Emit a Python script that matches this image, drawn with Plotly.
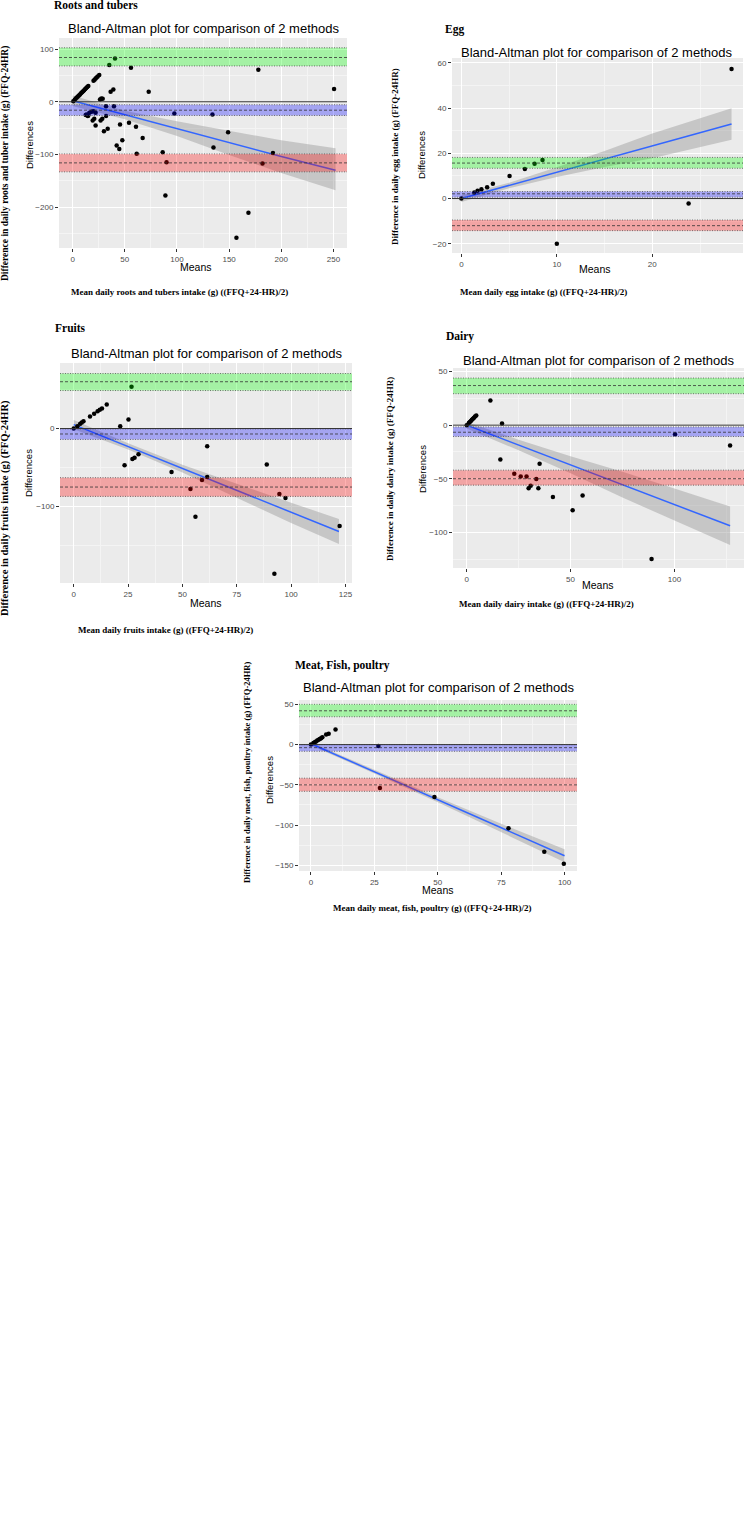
import plotly.graph_objects as go

W, H = 745, 1513

# ---------------- data ----------------
# Roots and tubers
roots_mean = [0.6, 2, 3, 4, 5, 6, 7, 8, 9, 10, 11, 12, 13, 14, 15,
              20, 21, 22, 23, 24, 25.5, 26.2, 27.5, 28.8, 36.4, 39, 40.6, 35.1, 55.9, 72.9,
              32, 39.6, 13.4, 16, 18, 19.8, 22, 15, 12.5, 14.5, 32, 19.2, 20.7, 22, 26.8, 28.4,
              45.4, 54, 60.7, 33.6, 30, 67.1, 47.6, 42.2, 44.7, 61.4, 86.3, 90,
              88.9, 97.5, 134, 149, 135, 192, 182, 168.5, 157, 178, 250.6]
roots_diff = [1.2, 4, 6, 8, 10, 12, 14, 16, 18, 20, 22, 24, 26, 28, 30,
              40, 42, 44, 46, 48, 51, 4.4, 6, 5.7, 19, 23.4, 82, 69.7, 64.7, 19,
              -8.4, -8.4, -24, -21, -19, -18, -21, -26, -25, -27, -27, -35.6, -32.4, -45, -35.6, -32.4,
              -43, -40, -47.6, -51.4, -56, -68.6, -73, -83, -89.6, -98.5, -96, -115,
              -178, -22.5, -24, -58, -87, -97, -117, -210.6, -258, 60.6, 24.4]
roots_loa_upper = [68, 84, 102.5]      # lower CI, estimate, upper CI
roots_bias = [-26, -16, -5.6]
roots_loa_lower = [-133, -116, -99]
roots_fit_x = [0, 50, 100, 150, 200, 252]
roots_fit_y = [2, -24.6, -51, -78, -104, -130]
roots_ci_lo = [-8, -33, -65, -101, -135, -168]
roots_ci_hi = [12, -17, -37, -55, -73, -88]

# Egg
egg_mean = [0, 1.36, 1.7, 2.1, 2.7, 3.3, 5.05, 6.65, 7.67, 8.5, 10, 23.8, 28.3]
egg_diff = [0, 2.7, 3.4, 4.1, 5, 6.5, 10, 13.1, 15.4, 17.1, -20, -2.2, 57.3]
egg_loa_upper = [13.4, 15.7, 18.2]
egg_bias = [0.6, 2.1, 3.1]
egg_loa_lower = [-14.2, -12, -9.5]
egg_fit_x = [0, 5, 10, 15, 20, 28.3]
egg_fit_y = [0, 5.8, 11.7, 17.5, 23.3, 33]
egg_ci_lo = [-1.5, 4.6, 9.5, 14, 17.8, 26]
egg_ci_hi = [1.5, 7, 13.9, 21, 28.8, 40]

# Fruits
fruits_mean = [0, 1.7, 3, 3.7, 4.5, 7.5, 9.4, 11, 12, 13, 15.2, 21.4, 25.2, 26.6, 23.4, 27, 28,
               29.8, 45, 53.7, 59, 61.4, 61.4, 56, 88.8, 94.6, 97.4, 122.3, 92.3]
fruits_diff = [0, 3, 6, 7.7, 9.4, 15.4, 18.8, 22, 24, 25.6, 30.8, 3, 11.5, 53.4, -47, -39, -37.6,
               -33, -55.6, -77.4, -66, -22.6, -62, -113, -46, -84, -89, -125, -186]
fruits_loa_upper = [48.7, 60, 70.5]
fruits_bias = [-14, -7, -0.5]
fruits_loa_lower = [-87, -75, -63]
fruits_fit_x = [0, 25, 50, 75, 100, 122]
fruits_fit_y = [5, -23, -51.5, -80, -108, -132]
fruits_ci_lo = [-1, -27, -56.5, -89, -121, -148]
fruits_ci_hi = [11, -19, -46.5, -71, -95, -116]

# Dairy
dairy_mean = [0, 1, 1.5, 2, 2.5, 3, 3.5, 4, 4.6, 11.4, 17, 16.2, 22.9, 26, 28.8, 33.5, 29.8, 30.8,
              34.5, 35.1, 41.5, 55.8, 51, 89, 100.3, 126.8]
dairy_diff = [0, 2, 3, 4, 5, 6, 7, 8, 9, 23, 1.6, -32, -45.3, -48, -48, -50.3, -59, -56.5,
              -59, -36, -67, -65.6, -79.4, -125, -8.4, -19]
dairy_loa_upper = [29.4, 37, 44]
dairy_bias = [-10.6, -6.6, -1.6]
dairy_loa_lower = [-56, -50, -42]
dairy_fit_x = [0, 25, 50, 75, 100, 126.8]
dairy_fit_y = [0, -18.5, -37, -55.6, -74.1, -94]
dairy_ci_lo = [-3, -23.5, -45, -67.6, -89.1, -112]
dairy_ci_hi = [3, -13.5, -29, -43.6, -59.1, -76]

# Meat, fish, poultry
meat_mean = [0, 1, 1.5, 2, 2.5, 3, 3.5, 4, 4.5, 6, 7, 9.7, 26.6, 27.2, 48.7, 77.9, 92, 99.7]
meat_diff = [0, 2, 3, 4, 5, 6, 7, 8, 9, 12.5, 13.5, 18.8, -1.7, -53.8, -65, -104, -133, -148]
meat_loa_upper = [34.6, 42, 50]
meat_bias = [-8.3, -3.8, 0]
meat_loa_lower = [-58, -50, -41.7]
meat_fit_x = [0, 25, 50, 75, 100]
meat_fit_y = [1, -33.75, -68.5, -103.25, -138]
meat_ci_lo = [-1, -35.75, -71.5, -108.25, -146]
meat_ci_hi = [3, -31.75, -65.5, -98.25, -130]

# tick labels
roots_xticks = [0, 50, 100, 150, 200, 250]
roots_yticks = [-200, -100, 0, 100]
egg_xticks = [0, 10, 20]
egg_yticks = [-20, 0, 20, 40, 60]
fruits_xticks = [0, 25, 50, 75, 100, 125]
fruits_yticks = [-100, 0]
dairy_xticks = [0, 50, 100]
dairy_yticks = [-100, -50, 0, 50]
meat_xticks = [0, 25, 50, 75, 100]
meat_yticks = [-150, -100, -50, 0, 50]

TITLE = "Bland-Altman plot for comparison of 2 methods"

panels = [
    dict(mean=roots_mean, diff=roots_diff, up=roots_loa_upper, bias=roots_bias, low=roots_loa_lower,
         fx=roots_fit_x, fy=roots_fit_y, clo=roots_ci_lo, chi=roots_ci_hi,
         xt=roots_xticks, yt=roots_yticks, xminor=25, yminor=50,
         box=(59, 347, 38, 248), xr=[-13.1, 263], yr=[-277.5, 121],
         name="Roots and tubers", name_pos=(52, 5, 11.5),
         title_pos=(203, 28), diff_pos=(29, 145), means_pos=(196, 267),
         bottom="Mean daily roots and tubers intake (g) ((FFQ+24-HR)/2)", bottom_pos=(179, 292, 9),
         outer="Difference in daily roots and tuber intake (g) (FFQ-24HR)", outer_pos=(5, 164, 9.5)),
    dict(mean=egg_mean, diff=egg_diff, up=egg_loa_upper, bias=egg_bias, low=egg_loa_lower,
         fx=egg_fit_x, fy=egg_fit_y, clo=egg_ci_lo, chi=egg_ci_hi,
         xt=egg_xticks, yt=egg_yticks, xminor=5, yminor=10,
         box=(452, 743, 58, 253), xr=[-0.98, 29.5], yr=[-24.1, 62.2],
         name="Egg", name_pos=(443, 30, 11.5),
         title_pos=(596, 52), diff_pos=(422, 155), means_pos=(595, 269),
         bottom="Mean daily egg intake (g) ((FFQ+24-HR)/2)", bottom_pos=(543, 292, 9),
         outer="Difference in daily egg intake (g) (FFQ-24HR)", outer_pos=(395, 157, 9)),
    dict(mean=fruits_mean, diff=fruits_diff, up=fruits_loa_upper, bias=fruits_bias, low=fruits_loa_lower,
         fx=fruits_fit_x, fy=fruits_fit_y, clo=fruits_ci_lo, chi=fruits_ci_hi,
         xt=fruits_xticks, yt=fruits_yticks, xminor=12.5, yminor=50,
         box=(60, 352, 363, 583), xr=[-6.3, 128], yr=[-198, 84],
         name="Fruits", name_pos=(53, 328, 11.5),
         title_pos=(206, 353), diff_pos=(29, 473), means_pos=(206, 603),
         bottom="Mean daily fruits intake (g) ((FFQ+24-HR)/2)", bottom_pos=(165, 630, 9),
         outer="Difference in daily fruits intake (g) (FFQ-24HR)", outer_pos=(5, 508, 10.5)),
    dict(mean=dairy_mean, diff=dairy_diff, up=dairy_loa_upper, bias=dairy_bias, low=dairy_loa_lower,
         fx=dairy_fit_x, fy=dairy_fit_y, clo=dairy_ci_lo, chi=dairy_ci_hi,
         xt=dairy_xticks, yt=dairy_yticks, xminor=25, yminor=25,
         box=(453, 744, 368, 568), xr=[-6.6, 133.5], yr=[-133.4, 53.4],
         name="Dairy", name_pos=(444, 337, 11.5),
         title_pos=(598, 360), diff_pos=(422, 469), means_pos=(598, 585),
         bottom="Mean daily dairy intake (g) ((FFQ+24-HR)/2)", bottom_pos=(546, 604, 9),
         outer="Difference in daily dairy intake (g) (FFQ-24HR)", outer_pos=(390, 469, 9)),
    dict(mean=meat_mean, diff=meat_diff, up=meat_loa_upper, bias=meat_bias, low=meat_loa_lower,
         fx=meat_fit_x, fy=meat_fit_y, clo=meat_ci_lo, chi=meat_ci_hi,
         xt=meat_xticks, yt=meat_yticks, xminor=12.5, yminor=25,
         box=(299, 577, 700, 871), xr=[-4.7, 104.9], yr=[-157, 55.4],
         name="Meat, Fish, poultry", name_pos=(293, 665, 11.5),
         title_pos=(438, 688), diff_pos=(269, 780), means_pos=(438, 890),
         bottom="Mean daily meat, fish, poultry (g) ((FFQ+24-HR)/2)", bottom_pos=(432, 908, 9),
         outer="Difference in daily meat, fish, poultry intake (g) (FFQ-24HR)", outer_pos=(247, 772, 8.5)),
]


def px(x):
    return x / W


def py(y):
    return 1 - y / H


SANS = "Liberation Sans, Arial, sans-serif"
SERIF = "Liberation Serif, Times New Roman, serif"

fig = go.Figure()
shapes = []
annotations = []
layout_axes = {}

for i, p in enumerate(panels):
    s = "" if i == 0 else str(i + 1)
    xa, ya = "x" + s, "y" + s
    l, r, t, b = p["box"]

    # confidence band of regression
    fig.add_trace(go.Scatter(
        x=p["fx"] + p["fx"][::-1], y=p["chi"] + p["clo"][::-1],
        fill="toself", fillcolor="rgba(153,153,153,0.45)", line=dict(width=0),
        mode="lines", hoverinfo="skip", showlegend=False, xaxis=xa, yaxis=ya))
    # regression line
    fig.add_trace(go.Scatter(
        x=p["fx"], y=p["fy"], mode="lines", line=dict(color="#3366FF", width=1.5),
        showlegend=False, xaxis=xa, yaxis=ya))
    # points
    fig.add_trace(go.Scatter(
        x=p["mean"], y=p["diff"], mode="markers",
        marker=dict(color="black", size=4.5, line=dict(width=0)),
        showlegend=False, xaxis=xa, yaxis=ya))

    xd = xa + " domain"
    for vals, col in ((p["up"], "rgba(0,255,0,0.3)"), (p["bias"], "rgba(0,0,255,0.3)"),
                      (p["low"], "rgba(255,0,0,0.3)")):
        lo, mid, hi = vals
        shapes.append(dict(type="rect", xref=xd, yref=ya, x0=0, x1=1, y0=lo, y1=hi,
                           fillcolor=col, line=dict(width=0), layer="above"))
        for v in (lo, hi):
            shapes.append(dict(type="line", xref=xd, yref=ya, x0=0, x1=1, y0=v, y1=v,
                               line=dict(color="#555555", width=0.8, dash="1px,1.5px"), layer="above"))
        shapes.append(dict(type="line", xref=xd, yref=ya, x0=0, x1=1, y0=mid, y1=mid,
                           line=dict(color="#333333", width=0.8, dash="3px,2px"), layer="above"))
    shapes.append(dict(type="line", xref=xd, yref=ya, x0=0, x1=1, y0=0, y1=0,
                       line=dict(color="#333333", width=1), layer="above"))

    tickfont = dict(family=SANS, size=8, color="#4D4D4D")
    layout_axes["xaxis" + s] = dict(
        domain=[px(l), px(r)], range=p["xr"], anchor=ya, tickvals=p["xt"],
        showgrid=True, gridcolor="white", gridwidth=1, zeroline=False, showline=False,
        ticks="outside", ticklen=3, tickcolor="#333333", tickfont=tickfont,
        minor=dict(dtick=p["xminor"], tick0=0, showgrid=True, gridcolor="#F4F4F4", gridwidth=0.6),
        fixedrange=True)
    layout_axes["yaxis" + s] = dict(
        domain=[py(b), py(t)], range=p["yr"], anchor=xa, tickvals=p["yt"],
        showgrid=True, gridcolor="white", gridwidth=1, zeroline=False, showline=False,
        ticks="outside", ticklen=3, tickcolor="#333333", tickfont=tickfont,
        minor=dict(dtick=p["yminor"], tick0=0, showgrid=True, gridcolor="#F4F4F4", gridwidth=0.6),
        fixedrange=True)

    # texts
    nx, ny, ns = p["name_pos"]
    annotations.append(dict(text="<b>%s</b>" % p["name"], x=px(nx), y=py(ny), xref="paper", yref="paper",
                            xanchor="left", yanchor="middle", showarrow=False,
                            font=dict(family=SERIF, size=ns, color="black")))
    tx, ty = p["title_pos"]
    annotations.append(dict(text=TITLE, x=px(tx), y=py(ty), xref="paper", yref="paper",
                            xanchor="center", yanchor="middle", showarrow=False,
                            font=dict(family=SANS, size=13, color="black")))
    dx, dy = p["diff_pos"]
    annotations.append(dict(text="Differences", x=px(dx), y=py(dy), xref="paper", yref="paper",
                            xanchor="center", yanchor="middle", textangle=-90, showarrow=False,
                            font=dict(family=SANS, size=9.5, color="black")))
    mx, my = p["means_pos"]
    annotations.append(dict(text="Means", x=px(mx), y=py(my), xref="paper", yref="paper",
                            xanchor="center", yanchor="middle", showarrow=False,
                            font=dict(family=SANS, size=10.5, color="black")))
    bx, by, bs = p["bottom_pos"]
    annotations.append(dict(text="<b>%s</b>" % p["bottom"], x=px(bx), y=py(by), xref="paper", yref="paper",
                            xanchor="center", yanchor="middle", showarrow=False,
                            font=dict(family=SERIF, size=bs, color="black")))
    ox, oy, os_ = p["outer_pos"]
    annotations.append(dict(text="<b>%s</b>" % p["outer"], x=px(ox), y=py(oy), xref="paper", yref="paper",
                            xanchor="center", yanchor="middle", textangle=-90, showarrow=False,
                            font=dict(family=SERIF, size=os_, color="black")))

fig.update_layout(
    width=W, height=H, margin=dict(l=0, r=0, t=0, b=0),
    paper_bgcolor="white", plot_bgcolor="#EBEBEB",
    showlegend=False, shapes=shapes, annotations=annotations, **layout_axes)

fig.write_html("out.html", config={"displayModeBar": False},
               post_script="document.body.style.margin='0';document.body.style.overflow='hidden';")
